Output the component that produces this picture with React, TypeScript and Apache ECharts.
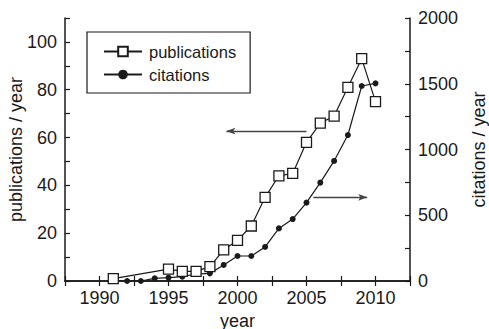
import React, { useEffect, useRef } from "react";
import * as echarts from "echarts";

// Publications per year (left axis)
const pubYears = [1991, 1995, 1996, 1997, 1998, 1999, 2000, 2001, 2002, 2003, 2004, 2005, 2006, 2007, 2008, 2009, 2010];
const pubValues = [1, 5, 4, 4, 6, 13, 17, 23, 35, 44, 45, 58, 66, 69, 81, 93, 75];

// Citations per year (right axis)
const citYears = [1991, 1992, 1993, 1994, 1995, 1996, 1997, 1998, 1999, 2000, 2001, 2002, 2003, 2004, 2005, 2006, 2007, 2008, 2009, 2010];
const citValues = [2, 0, 0, 20, 25, 33, 53, 58, 122, 190, 190, 259, 400, 471, 596, 748, 913, 1110, 1483, 1503];

const FONT = "Liberation Sans, Arial, sans-serif";
const INK = "#1a1a1a";

export default function App() {
  const ref = useRef<HTMLDivElement>(null);

  useEffect(() => {
    if (!ref.current) return;
    const chart = echarts.init(ref.current, undefined, { renderer: "svg" });

    const axisLine = { show: true, lineStyle: { color: INK, width: 1.5 } };
    const axisTick = { show: true, inside: true, length: 5, lineStyle: { color: INK, width: 1.2 } };
    const label = { color: INK, fontSize: 18, fontFamily: FONT };
    const nameStyle = { color: INK, fontSize: 18, fontFamily: FONT };

    chart.setOption({
      animation: false,
      backgroundColor: "#ffffff",
      textStyle: { fontFamily: FONT },
      grid: { left: 65, right: 79, top: 18, bottom: 48, containLabel: false, outerBoundsMode: "none" },
      legend: {
        orient: "vertical",
        left: 87,
        top: 32,
        width: 166,
        padding: [11, 14, 10, 16],
        itemGap: 6,
        itemWidth: 38,
        itemHeight: 12,
        borderColor: INK,
        borderWidth: 1.2,
        textStyle: { color: INK, fontSize: 16.5, fontFamily: FONT, padding: [0, 0, 0, 2] },
        data: ["publications", "citations"],
      },
      xAxis: [
        {
          type: "value",
          min: 1987.5,
          max: 2012.5,
          interval: 2.5,
          position: "bottom",
          name: "year",
          nameLocation: "middle",
          nameGap: 31,
          nameMoveOverlap: false,
          nameTextStyle: nameStyle,
          axisLine,
          axisTick,
          splitLine: { show: false },
          axisLabel: {
            ...label,
            margin: 8,
            formatter: (v: number) => (v % 5 === 0 ? String(v) : ""),
          },
        },
        {
          type: "value",
          min: 1987.5,
          max: 2012.5,
          interval: 2.5,
          position: "top",
          axisLine,
          axisTick,
          splitLine: { show: false },
          axisLabel: { show: false },
        },
      ],
      yAxis: [
        {
          type: "value",
          min: 0,
          max: 110,
          interval: 10,
          position: "left",
          name: "publications / year",
          nameLocation: "middle",
          nameGap: 40,
          nameMoveOverlap: false,
          nameRotate: 90,
          nameTextStyle: nameStyle,
          axisLine,
          axisTick,
          splitLine: { show: false },
          axisLabel: {
            ...label,
            margin: 8,
            formatter: (v: number) => (v % 20 === 0 ? String(v) : ""),
          },
        },
        {
          type: "value",
          min: 0,
          max: 2000,
          interval: 250,
          position: "right",
          name: "citations / year",
          nameLocation: "middle",
          nameGap: 60,
          nameMoveOverlap: false,
          nameRotate: 90,
          nameTextStyle: nameStyle,
          axisLine,
          axisTick,
          splitLine: { show: false },
          axisLabel: {
            ...label,
            margin: 8,
            formatter: (v: number) => (v % 500 === 0 ? String(v) : ""),
          },
        },
      ],
      series: [
        {
          name: "publications",
          type: "line",
          xAxisIndex: 0,
          yAxisIndex: 0,
          data: pubYears.map((y, i) => [y, pubValues[i]]),
          symbol: "rect",
          symbolSize: 10,
          showAllSymbol: true,
          lineStyle: { color: INK, width: 1.2 },
          itemStyle: { color: "#ffffff", borderColor: INK, borderWidth: 1.3 },
          z: 3,
          markLine: {
            silent: true,
            symbol: ["none", "arrow"],
            symbolSize: [5, 9],
            label: { show: false },
            lineStyle: { color: "#444", width: 1.3, type: "solid" },
            data: [[{ coord: [2005, 62.7] }, { coord: [1999.2, 62.7] }]],
          },
        },
        {
          name: "citations",
          type: "line",
          xAxisIndex: 0,
          yAxisIndex: 1,
          data: citYears.map((y, i) => [y, citValues[i]]),
          symbol: "circle",
          symbolSize: 6,
          showAllSymbol: true,
          lineStyle: { color: INK, width: 1.2 },
          itemStyle: { color: INK, borderColor: INK, borderWidth: 0 },
          z: 2,
          markLine: {
            silent: true,
            symbol: ["none", "arrow"],
            symbolSize: [5, 9],
            label: { show: false },
            lineStyle: { color: "#444", width: 1.3, type: "solid" },
            data: [[{ coord: [2005.5, 636] }, { coord: [2009.4, 636] }]],
          },
        },
      ],
    });

    return () => chart.dispose();
  }, []);

  return <div ref={ref} style={{ width: 489, height: 329, position: "absolute", left: 0, top: 0 }} />;
}
